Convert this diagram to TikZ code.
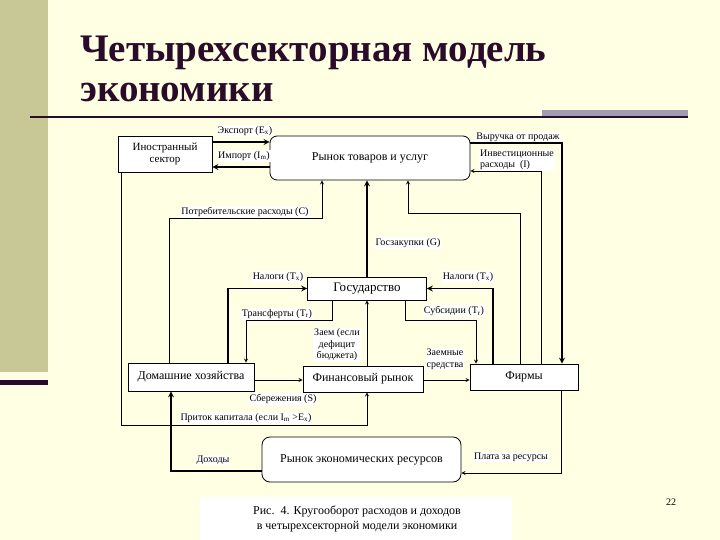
\documentclass[tikz,border=0pt]{standalone}
\usepackage{fontspec}
\setmainfont{Liberation Serif}[BoldFont={Liberation Serif Bold}]
\definecolor{fonbg}{HTML}{FFFFE3}
\definecolor{sidebar}{HTML}{C8C896}
\definecolor{greybar}{HTML}{A29CB0}
\definecolor{titlecol}{HTML}{2A0C2A}
\tikzset{
	sector/.style={draw,fill=white,line width=0.8pt,inner sep=1pt,font=\fontsize{12}{13}\selectfont,align=center},
	lbl/.style={fill=white,inner sep=1pt,font=\fontsize{10}{11.5}\selectfont,align=center},
	flow/.style={->,line width=0.8pt},
	bigflow/.style={->,line width=1.6pt}
}
\begin{document}
\begin{tikzpicture}[x=1pt,y=-1pt,>=stealth,line join=miter]
		\useasboundingbox (0,0) rectangle (720,540);
		\fill[fonbg] (0,0) rectangle (720,540);
		\fill[sidebar] (0,0) rectangle (48,372);
		\fill[titlecol] (0,380) rectangle (48,385);
		\fill[greybar] (542,110) rectangle (688,116);
		\fill[titlecol] (30,116) rectangle (688,118.5);
		\fill[white] (200,497) rectangle (512,540);
		% title
		\node[anchor=base west,inner sep=0pt,font=\fontsize{39}{42}\selectfont\bfseries,text=titlecol] (ttla) at (80,62) {Четырехсекторная модель};
		\node[anchor=base west,inner sep=0pt,font=\fontsize{39}{42}\selectfont\bfseries,text=titlecol] (ttlb) at (80,102) {экономики};
		% sectors
		\node[sector,minimum width=94pt,minimum height=36pt,font=\fontsize{11}{12}\selectfont] (inos) at (165,154) {Иностранный\\сектор};
		\node[sector,rounded corners=7pt,minimum width=200pt,minimum height=44pt] (rtu) at (370,158) {Рынок товаров и услуг};
		\node[sector,minimum width=119pt,minimum height=23pt,font=\fontsize{13}{14}\selectfont] (gov) at (367,288.5) {Государство};
		\node[sector,minimum width=126pt,minimum height=28pt] (hh) at (191,377) {Домашние хозяйства};
		\node[sector,minimum width=120pt,minimum height=26pt] (fin) at (363,379) {Финансовый рынок};
		\node[sector,minimum width=108pt,minimum height=26pt] (firm) at (524,377) {Фирмы};
		\node[sector,rounded corners=8pt,minimum width=199pt,minimum height=45pt] (rer) at (361.5,459.5) {Рынок экономических ресурсов};
		% flows
		\draw[bigflow] ([yshift=12pt]inos.east) -- ([yshift=12pt]inos.east -| rtu.west);
		\draw[bigflow] ([yshift=-9pt]rtu.west) -- ([yshift=-9pt]rtu.west -| inos.east);
		\draw[bigflow] ([yshift=15pt]rtu.east) -| ([xshift=38pt]firm.north);
		\draw[flow] ([xshift=17pt]firm.north) |- ([yshift=-13pt]rtu.east);
		\draw[flow] ([xshift=-4pt]firm.north) |- ([xshift=38pt,yshift=-33pt]rtu.south) -- ([xshift=38pt]rtu.south);
		\draw[flow] ([xshift=-22pt]hh.north) |- ([xshift=-48pt,yshift=-38pt]rtu.south) -- ([xshift=-48pt]rtu.south);
		\draw[bigflow] (gov.north) -- (gov.north |- rtu.south);
		\draw[bigflow] ([xshift=37pt]hh.north) |- (gov.west);
		\draw[flow] ([xshift=-35pt]gov.south) -- ++(0,20) -| ([xshift=55pt]hh.north);
		\draw[bigflow] ([xshift=-31pt]firm.north) |- (gov.east);
		\draw[flow] ([xshift=38pt]gov.south) -- ++(0,20) -| ([xshift=-48pt]firm.north);
		\draw[flow] (fin.north -| gov.south) -- (gov.south);
		\draw[flow] ([yshift=-3pt]hh.east) -- ([yshift=-3pt]hh.east -| fin.west);
		\draw[flow] ([yshift=-1pt]fin.east) -- ([yshift=-1pt]fin.east -| firm.west);
		\draw[flow] ([xshift=-44pt]inos.south) |- ([xshift=4pt,yshift=-33pt]fin.south) -- ([xshift=4pt]fin.south);
		\draw[bigflow] ([yshift=-11.5pt]rer.west) -| ([xshift=-20pt]hh.south);
		\draw[flow] ([xshift=37pt]firm.south) |- ([yshift=-13.5pt]rer.east);
		% labels
		\node[lbl] (lexp) at (245,131) {Экспорт (E\textsubscript{x})};
		\node[lbl] (limp) at (244,156) {Импорт (I\textsubscript{m})};
		\node[lbl] (lrev) at (518,137) {Выручка от продаж};
		\node[lbl,align=left] (linv) at (517,160) {Инвестиционные\\расходы \ (I)};
		\node[lbl] (lcons) at (245,212) {Потребительские расходы (C)};
		\node[lbl] (lgz) at (408,243) {Госзакупки (G)};
		\node[lbl] (ltaxa) at (278,277) {Налоги (T\textsubscript{x})};
		\node[lbl] (ltaxb) at (468,277) {Налоги (T\textsubscript{x})};
		\node[lbl] (ltr) at (277,314) {Трансферты (T\textsubscript{r})};
		\node[lbl] (lsub) at (454,311) {Субсидии (T\textsubscript{r})};
		\node[lbl] (lloan) at (337,345) {Заем (если\\дефицит\\бюджета)};
		\node[lbl,align=left] (lfund) at (445,359) {Заемные\\средства};
		\node[lbl] (lsav) at (283,399) {Сбережения (S)};
		\node[lbl] (lcap) at (246,418) {Приток капитала (если I\textsubscript{m} >E\textsubscript{x})};
		\node[lbl] (linc) at (213,460) {Доходы};
		\node[lbl] (lpay) at (511,457) {Плата за ресурсы};
		% caption
		\node[align=center,font=\fontsize{12}{15}\selectfont] (capt) at (357,519) {Рис.\ \ 4. Кругооборот расходов и доходов\\в четырехсекторной модели экономики};
		\node[font=\fontsize{10}{12}\selectfont] (pnum) at (671,502) {22};
\end{tikzpicture}
\end{document}
